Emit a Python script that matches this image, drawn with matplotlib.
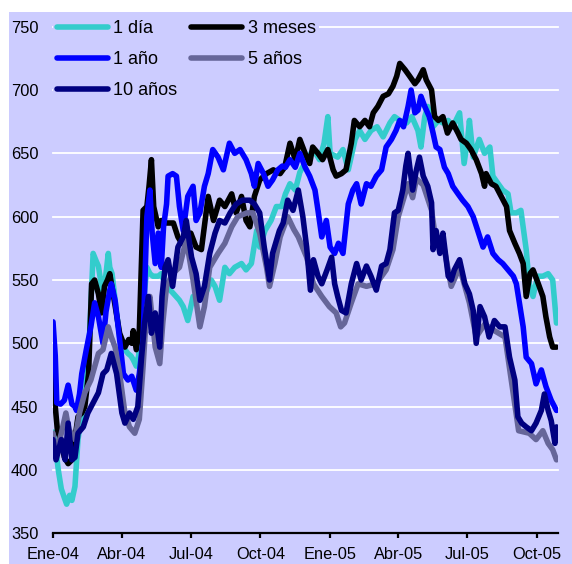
import numpy as np
import pandas as pd
import matplotlib
matplotlib.use('Agg')
import matplotlib.pyplot as plt
from matplotlib.patches import Rectangle

plt.rcParams['font.family'] = ['Liberation Sans', 'DejaVu Sans']

# Days counted from 1 Jan 2004
dias_1d = [0, 3, 7, 11, 15, 18, 22, 25, 29, 33, 37, 42, 47, 50, 53, 57, 60, 64, 66, 70,
           73, 75, 78, 84, 88, 91, 95, 99, 103, 106, 110, 113, 115, 119, 121, 124, 128, 132, 139, 143,
           146, 150, 158, 167, 172, 178, 185, 192, 200, 209, 214, 220, 227, 233, 240, 249, 255, 262, 269, 273,
           280, 288, 295, 302, 307, 313, 320, 326, 335, 344, 352, 358, 363, 366, 376, 383, 390, 399, 405, 412,
           420, 428, 436, 445, 451, 458, 467, 474, 482, 486, 491, 495, 502, 509, 515, 522, 528, 537, 543, 548,
           550, 555, 563, 570, 577, 581, 588, 594, 601, 605, 612, 618, 625, 629, 634, 640, 647, 654, 660, 665]
val_1d = [430, 420, 400, 385, 378, 373, 380, 376, 387, 424, 440, 455, 490, 530, 571, 565, 561, 545, 537, 555,
          571, 560, 555, 524, 505, 497, 495, 492, 490, 487, 482, 490, 503, 530, 542, 560, 555, 553, 553, 555,
          550, 545, 540, 534, 529, 518, 537, 534, 537, 550, 545, 534, 560, 555, 560, 563, 558, 563, 589, 576,
          589, 597, 608, 608, 618, 626, 621, 635, 645, 653, 645, 658, 679, 650, 647, 653, 637, 661, 668, 661,
          668, 671, 663, 674, 679, 676, 674, 679, 668, 655, 679, 687, 671, 676, 674, 676, 671, 682, 642, 663,
          676, 647, 661, 650, 655, 632, 626, 621, 618, 603, 603, 605, 574, 547, 537, 553, 553, 555, 550, 516]

dias_3m = [0, 3, 6, 10, 15, 20, 25, 29, 33, 38, 42, 47, 51, 55, 60, 64, 68, 72, 75, 80,
           88, 95, 100, 104, 106, 110, 114, 119, 124, 127, 130, 133, 139, 143, 150, 159, 165, 170, 176, 182,
           189, 196, 205, 212, 220, 227, 236, 242, 249, 255, 260, 266, 273, 282, 291, 300, 306, 313, 320, 326,
           333, 339, 343, 350, 356, 363, 370, 374, 381, 387, 394, 398, 405, 412, 418, 423, 429, 436, 443, 449,
           454, 458, 465, 471, 478, 482, 489, 493, 500, 504, 509, 515, 521, 528, 535, 539, 546, 552, 559, 566,
           570, 572, 579, 585, 592, 599, 603, 610, 616, 621, 625, 630, 634, 641, 647, 651, 656, 660, 665]
val_3m = [490, 450, 430, 425, 410, 405, 408, 425, 442, 445, 450, 476, 547, 550, 539, 524, 545, 550, 555, 537,
          508, 497, 503, 500, 510, 495, 510, 605, 608, 625, 645, 608, 592, 597, 595, 595, 584, 579, 582, 587,
          576, 574, 616, 597, 613, 608, 618, 603, 616, 597, 592, 616, 629, 634, 637, 634, 639, 658, 645, 661,
          650, 642, 655, 650, 645, 653, 637, 632, 634, 637, 658, 676, 671, 676, 671, 682, 687, 695, 697, 703,
          711, 721, 716, 711, 705, 708, 716, 708, 700, 679, 676, 679, 666, 674, 666, 661, 658, 653, 645, 634,
          624, 634, 626, 624, 616, 608, 589, 579, 571, 563, 537, 555, 558, 547, 537, 521, 505, 497, 497]

dias_1a = [0, 3, 5, 10, 15, 20, 25, 29, 31, 35, 38, 44, 50, 55, 60, 66, 70, 75, 77, 82,
           88, 93, 99, 104, 110, 114, 119, 124, 128, 131, 135, 139, 143, 146, 150, 152, 158, 163, 167, 172,
           178, 185, 189, 194, 200, 205, 211, 218, 225, 233, 240, 247, 255, 262, 266, 271, 278, 284, 290, 297,
           303, 307, 313, 320, 326, 333, 339, 346, 350, 355, 361, 366, 372, 377, 383, 390, 396, 401, 407, 414,
           420, 427, 434, 440, 447, 453, 458, 463, 469, 473, 478, 482, 486, 491, 497, 502, 506, 511, 517, 522,
           528, 535, 541, 548, 555, 561, 568, 574, 581, 588, 594, 601, 608, 612, 616, 621, 625, 632, 638, 645,
           651, 658, 665]
val_1a = [517, 490, 453, 452, 455, 467, 452, 450, 447, 460, 476, 495, 513, 532, 521, 500, 525, 542, 547, 534,
          503, 476, 471, 474, 463, 476, 503, 600, 621, 587, 563, 587, 560, 592, 610, 632, 634, 632, 608, 589,
          616, 624, 597, 603, 624, 634, 653, 647, 637, 658, 650, 653, 645, 634, 624, 642, 634, 624, 629, 637,
          640, 639, 645, 639, 650, 639, 632, 621, 605, 584, 597, 576, 571, 579, 571, 610, 621, 626, 610, 626,
          624, 632, 637, 655, 661, 668, 676, 671, 687, 700, 682, 684, 695, 687, 679, 666, 655, 653, 639, 634,
          624, 618, 613, 608, 600, 589, 576, 584, 571, 566, 563, 558, 553, 547, 532, 513, 489, 484, 468, 479,
          466, 455, 447]

dias_5a = [0, 4, 11, 17, 21, 29, 35, 42, 50, 60, 66, 73, 77, 82, 88, 95, 101, 108, 114, 119,
           124, 128, 135, 141, 145, 150, 158, 167, 176, 185, 194, 200, 207, 218, 227, 236, 244, 256, 264, 273,
           282, 286, 293, 300, 310, 318, 324, 335, 344, 355, 365, 374, 380, 385, 394, 403, 414, 427, 440, 449,
           456, 469, 475, 480, 489, 500, 506, 515, 526, 537, 550, 559, 570, 583, 597, 606, 615, 629, 638, 647,
           654, 660, 665]
val_5a = [429, 413, 429, 445, 432, 424, 445, 461, 471, 492, 495, 513, 505, 497, 476, 445, 434, 429, 440, 482,
          529, 537, 497, 484, 516, 545, 555, 560, 582, 550, 513, 529, 560, 571, 579, 592, 600, 603, 603, 587,
          560, 545, 563, 584, 600, 590, 584, 568, 547, 537, 529, 524, 513, 516, 532, 547, 545, 547, 558, 574,
          600, 626, 615, 630, 625, 605, 580, 580, 545, 560, 532, 505, 515, 510, 505, 468, 431, 429, 424, 431,
          421, 416, 408]

dias_10a = [0, 4, 11, 16, 20, 25, 29, 33, 40, 46, 53, 60, 66, 71, 77, 84, 91, 95, 101, 106,
            112, 117, 121, 126, 130, 135, 141, 144, 148, 152, 158, 165, 172, 176, 183, 189, 194, 200, 207, 214,
            220, 227, 234, 242, 250, 260, 266, 273, 279, 286, 290, 299, 304, 310, 317, 324, 330, 335, 340, 344,
            350, 355, 362, 368, 372, 376, 381, 387, 394, 401, 407, 414, 420, 427, 434, 440, 445, 451, 456, 462,
            466, 469, 475, 480, 484, 489, 495, 500, 502, 506, 511, 515, 522, 526, 530, 537, 544, 550, 555, 559,
            564, 570, 576, 583, 590, 597, 603, 610, 614, 619, 625, 632, 638, 645, 649, 654, 658, 663, 665]
val_10a = [424, 408, 424, 408, 437, 408, 410, 429, 434, 445, 453, 461, 476, 479, 492, 476, 445, 437, 445, 440,
           450, 489, 516, 537, 508, 524, 497, 537, 560, 566, 545, 576, 584, 597, 568, 555, 534, 545, 571, 587,
           597, 595, 603, 610, 613, 613, 610, 603, 576, 550, 571, 589, 595, 613, 605, 621, 600, 576, 542, 566,
           553, 547, 558, 568, 547, 537, 526, 524, 547, 563, 550, 561, 553, 542, 561, 563, 574, 603, 605, 621,
           640, 650, 621, 637, 647, 632, 624, 611, 574, 589, 571, 587, 553, 550, 558, 566, 547, 539, 526, 500,
           529, 521, 505, 518, 513, 513, 489, 471, 442, 437, 434, 431, 437, 447, 460, 447, 439, 421, 434]

tick_dates = ['2004-01-01', '2004-04-01', '2004-07-01', '2004-10-01',
              '2005-01-01', '2005-04-01', '2005-07-01', '2005-10-01']
tick_labels = ['Ene-04', 'Abr-04', 'Jul-04', 'Oct-04', 'Ene-05', 'Abr-05', 'Jul-05', 'Oct-05']

start = pd.Timestamp('2004-01-01')


def to_dates(days):
    return start + pd.to_timedelta(np.array(days), unit='D')


series = [
    ('1 día', dias_1d, val_1d, '#33CCCC'),
    ('3 meses', dias_3m, val_3m, '#000000'),
    ('1 año', dias_1a, val_1a, '#0000FF'),
    ('5 años', dias_5a, val_5a, '#666699'),
    ('10 años', dias_10a, val_10a, '#000080'),
]

lav = '#CCCCFF'
fig = plt.figure(figsize=(5.72, 5.64), dpi=100, facecolor='white')
fig.patches.append(Rectangle((9 / 572, 0), 1, 1 - 12 / 564, transform=fig.transFigure,
                             facecolor=lav, edgecolor='none', zorder=-1))
ax = fig.add_axes([53 / 572, (564 - 533.3) / 564, (558 - 53) / 572, (533.3 - 26.7) / 564])
ax.set_facecolor(lav)

lines = {}
for name, d, v, c in series:
    l, = ax.plot(to_dates(d), v, color=c, lw=4.0, solid_joinstyle='round',
                 solid_capstyle='round', label=name)
    lines[name] = l

ax.set_ylim(350, 750)
ax.set_xlim(start, start + pd.Timedelta(days=667))
ax.set_yticks([350, 400, 450, 500, 550, 600, 650, 700, 750])
ax.set_xticks(pd.to_datetime(tick_dates))
ax.set_xticklabels(tick_labels)

for y in [400, 450, 500, 550, 600, 650, 700, 750]:
    ax.axhline(y, color='white', lw=1.3, zorder=0, clip_on=False)

for s in ['top', 'right', 'left']:
    ax.spines[s].set_visible(False)
ax.spines['bottom'].set_linewidth(1.6)
ax.tick_params(axis='y', length=0, pad=10.5, labelsize=11.8)
ax.tick_params(axis='x', length=3.6, width=1.6, direction='out', pad=6.5, labelsize=11.8)

order = ['1 día', '1 año', '10 años', '3 meses', '5 años']
leg = ax.legend([lines[n] for n in order], order, ncol=2, frameon=True, loc='upper left',
                bbox_to_anchor=(53.4 / 572, 1 - 16.5 / 564), bbox_transform=fig.transFigure,
                fontsize=13, handlelength=2.83, handletextpad=0.28, columnspacing=0.78,
                labelspacing=0.78, borderpad=0.2, borderaxespad=0, fancybox=False)
leg.get_frame().set_facecolor(lav)
leg.get_frame().set_edgecolor('none')
leg.get_frame().set_alpha(1)

fig.savefig('out.png', dpi=100, facecolor='white')
